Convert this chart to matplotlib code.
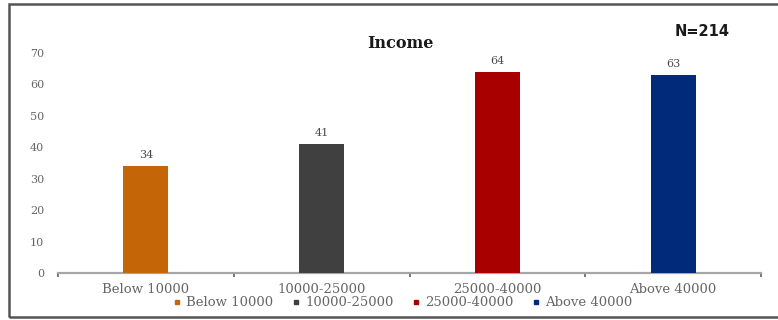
import matplotlib
matplotlib.use("Agg")
import matplotlib.pyplot as plt
from matplotlib.patches import Rectangle
from matplotlib.lines import Line2D

categories = ["Below 10000", "10000-25000", "25000-40000", "Above 40000"]
values = [34, 41, 64, 63]
colors = ["#C46508", "#404040", "#A80000", "#012A7A"]
yticks = [0, 10, 20, 30, 40, 50, 60, 70]
title = "Income"
sample_note = "N=214"

serif = ["DejaVu Serif"]
label_grey = "#666666"

fig = plt.figure(figsize=(7.78, 3.2), dpi=100)
ax = fig.add_axes([58 / 778, 47 / 320, 703 / 778, 220 / 320])

x = list(range(len(categories)))
ax.bar(x, values, width=0.256, color=colors, zorder=3)

for xi, v in zip(x, values):
    ax.text(xi, v + 2.0, str(v), ha="center", va="bottom",
            fontsize=8, family=serif, color="#4a4a4a")

ax.set_xlim(-0.5, len(categories) - 0.5)
ax.set_ylim(0, 70)
ax.set_yticks(yticks)
ax.set_yticklabels([str(t) for t in yticks], family=serif, fontsize=8,
                   color=label_grey)
ax.set_xticks(x)
ax.set_xticklabels(categories, family=serif, fontsize=9.5, color=label_grey)
ax.set_xticks([i + 0.5 for i in range(-1, len(categories))], minor=True)

ax.tick_params(axis="y", length=0, pad=10)
ax.tick_params(axis="x", which="major", length=0, pad=7)
ax.tick_params(axis="x", which="minor", length=3, width=1.2, color="#606060",
               direction="out")

for side in ("left", "right", "top"):
    ax.spines[side].set_visible(False)
ax.spines["bottom"].set_color("#A6A6A6")
ax.spines["bottom"].set_linewidth(1.6)

fig.text(400 / 778, 1 - 43 / 320, title, ha="center", va="center",
         family=serif, fontweight="bold", fontsize=11.5, color="#1a1a1a")
fig.text(702 / 778, 1 - 32 / 320, sample_note, ha="center", va="center",
         family=["DejaVu Sans"], fontweight="bold",
         fontsize=10.5, color="#1a1a1a")

handles = [Line2D([], [], marker="s", linestyle="none", markersize=3,
                  markerfacecolor=c, markeredgecolor=c) for c in colors]
fig.legend(handles, categories, loc="center", bbox_to_anchor=(403 / 778, 1 - 303 / 320),
           ncol=4, frameon=False, handlelength=0.5, handletextpad=0.45,
           columnspacing=1.45, prop={"family": serif, "size": 9.5},
           labelcolor=label_grey, borderpad=0)

fig.patches.append(Rectangle((8.5 / 778, 3 / 320), 1.0, 313 / 320,
                             transform=fig.transFigure, fill=False,
                             edgecolor="#555555", linewidth=1.8))

fig.savefig("out.png", dpi=100, facecolor="white")
